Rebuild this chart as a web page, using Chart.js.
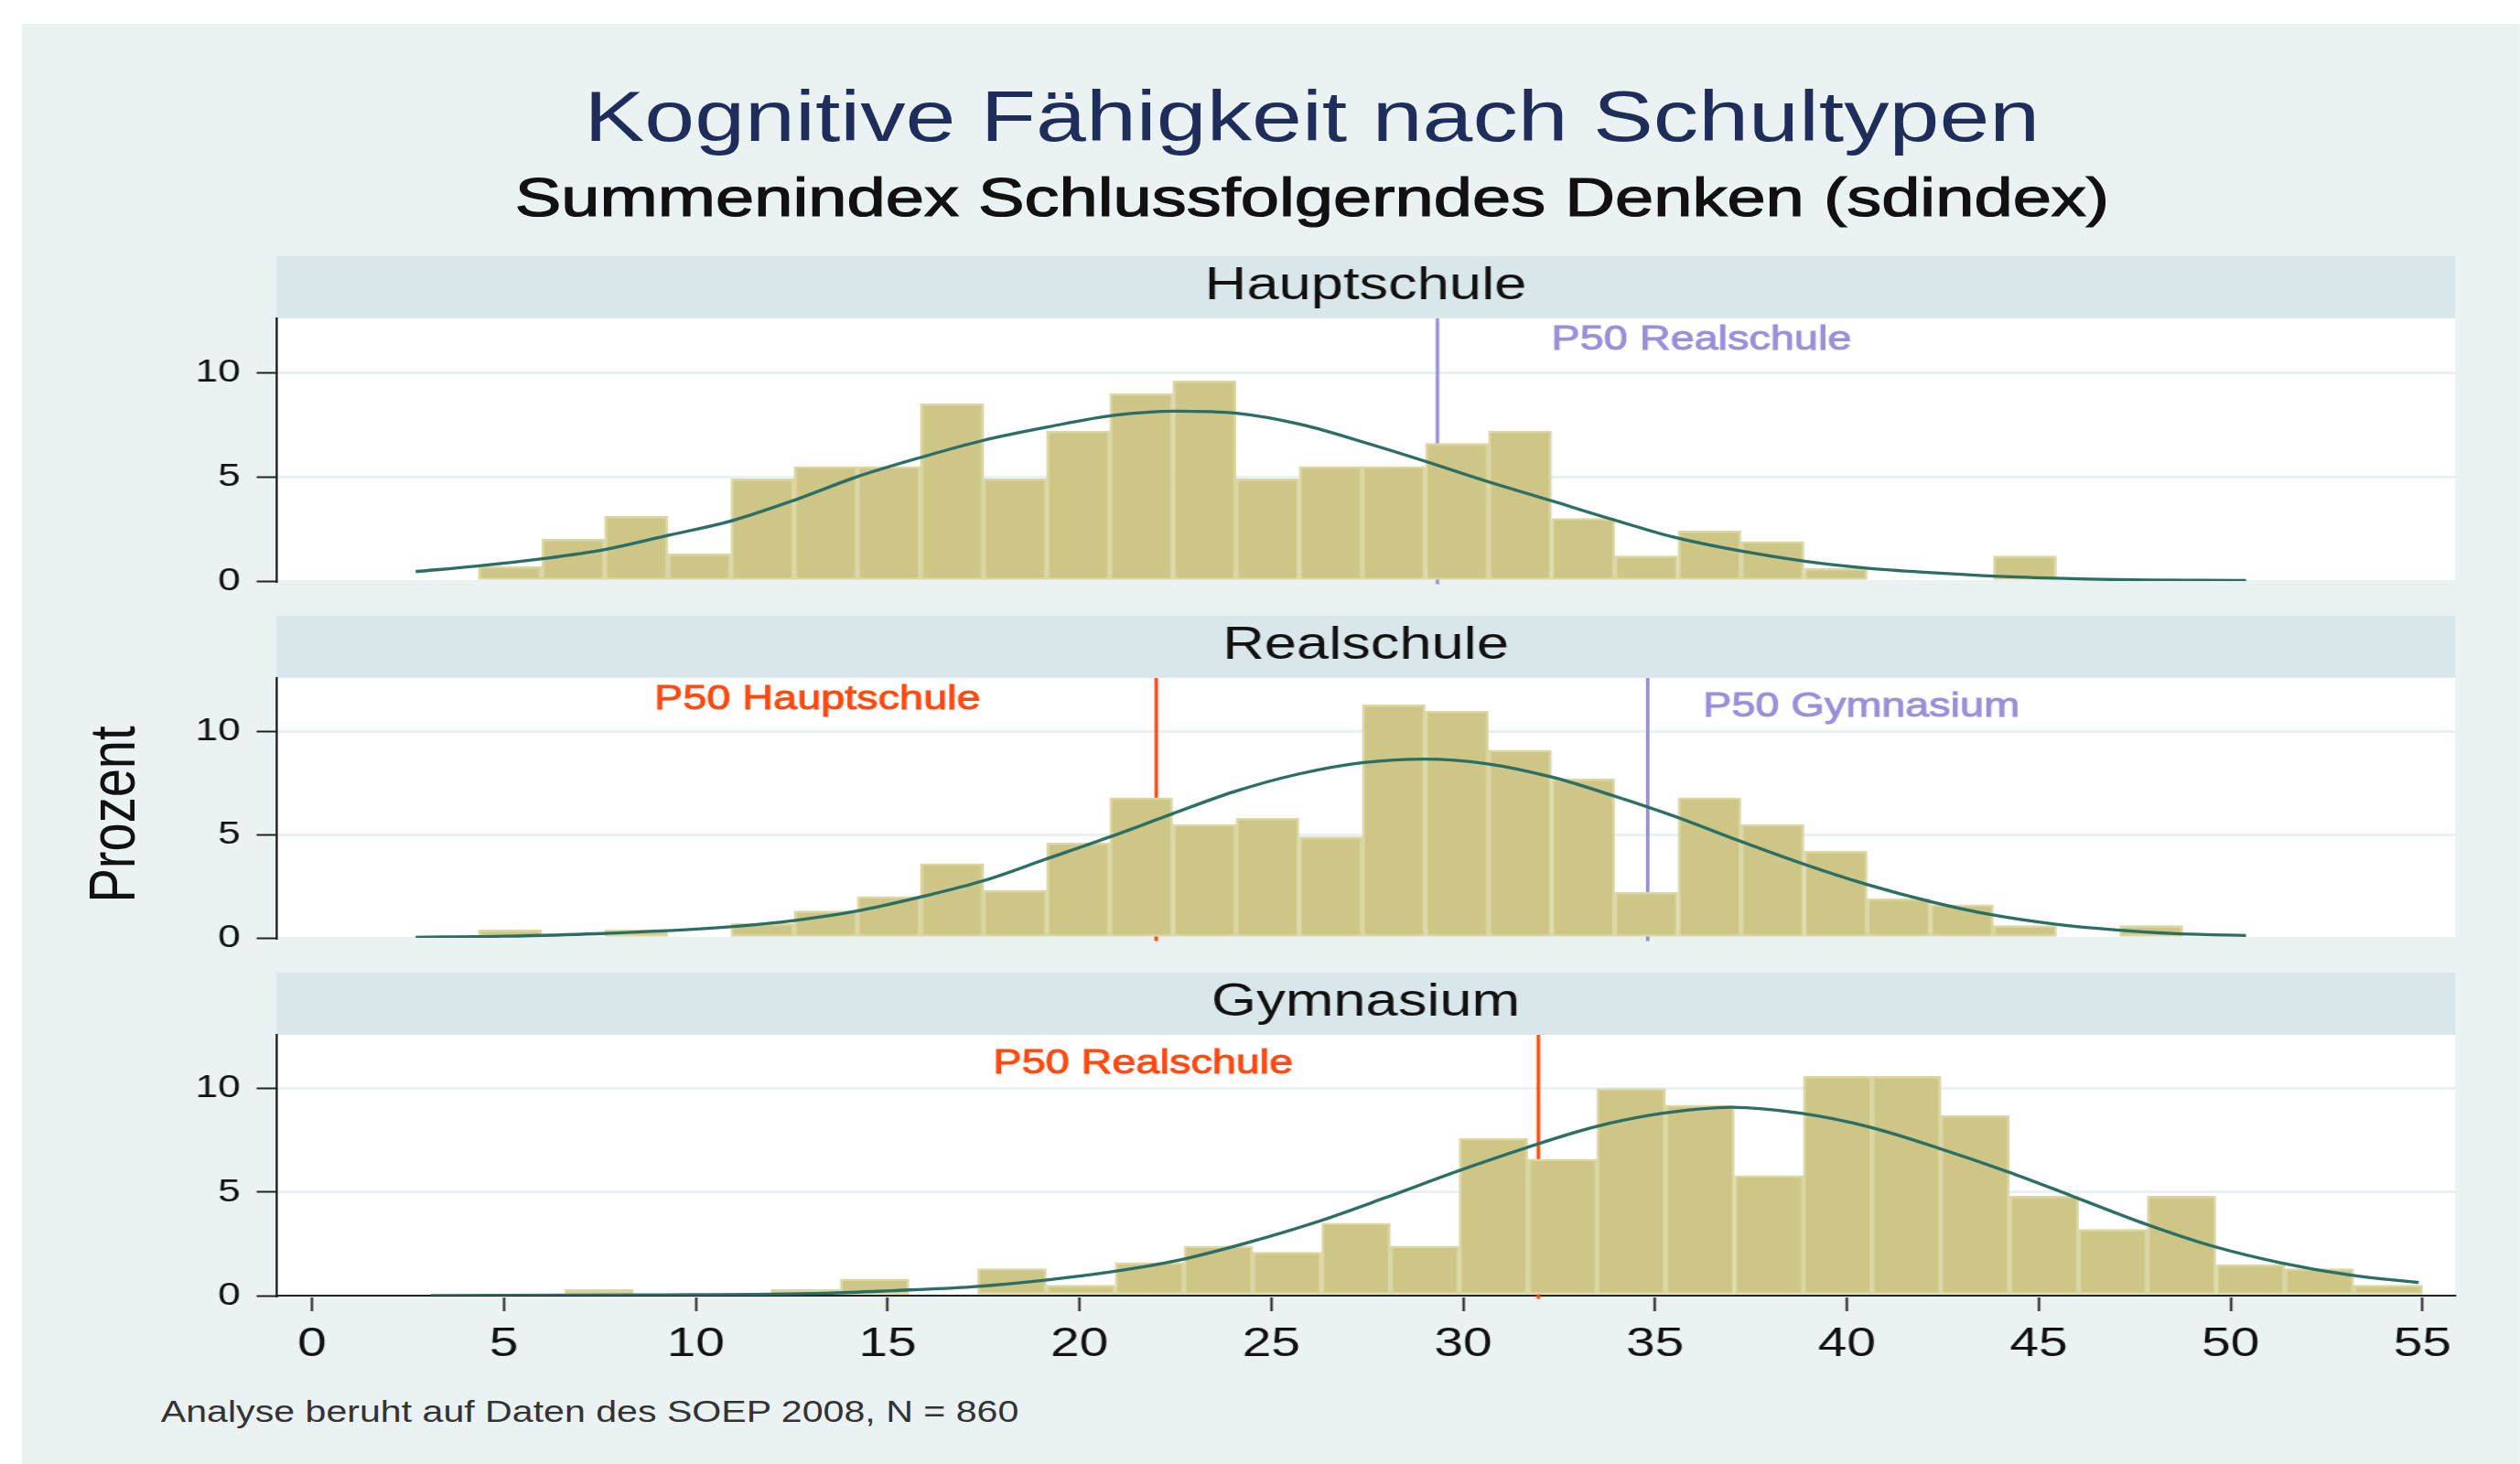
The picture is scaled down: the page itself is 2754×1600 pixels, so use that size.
<!DOCTYPE html>
<html lang="de">
<head>
<meta charset="utf-8">
<title>Kognitive Fähigkeit nach Schultypen</title>
<script src="https://cdn.jsdelivr.net/npm/chart.js@4.4.1/dist/chart.umd.min.js"></script>
<style>
  html, body { margin: 0; padding: 0; background: #fff; overflow: hidden; }
  /* the original graph is stretched sideways, so the whole stage is too */
  #stage { position: absolute; left: 0; top: 0; width: 2177px; height: 1600px;
           transform: scaleX(1.265); transform-origin: 0 0;
           font-family: "Liberation Sans", Arial, sans-serif; }
  #bg { position: absolute; left: 19px; top: 26px; width: 2158px; height: 1574px; background: #eaf2f3; }
  .txt { position: absolute; white-space: nowrap; line-height: 1; }
  #title { left: 0; width: 2267px; top: 88px; text-align: center; font-size: 78px; color: #1f2d5a; }
  #subtitle { left: 0; width: 2267px; top: 186px; text-align: center; font-size: 60px; color: #111;
              -webkit-text-stroke: 1.2px #111; }
  #ytitle { left: -53px; top: 862px; width: 300px; height: 56px; text-align: center;
            font-size: 56px; color: #111; transform: rotate(-90deg); }
  #note { left: 139px; top: 1527px; font-size: 32.5px; color: #333; }
  canvas { position: absolute; left: 0; }
</style>
</head>
<body>
<div id="stage">
  <div id="bg"></div>
  <div class="txt" id="title">Kognitive Fähigkeit nach Schultypen</div>
  <div class="txt" id="subtitle">Summenindex Schlussfolgerndes Denken (sdindex)</div>
  <div class="txt" id="ytitle">Prozent</div>
  <canvas id="c1" width="2177" height="390" style="top:280px"></canvas>
  <canvas id="c2" width="2177" height="387" style="top:673px"></canvas>
  <canvas id="c3" width="2177" height="443" style="top:1063px"></canvas>
  <div class="txt" id="note">Analyse beruht auf Daten des SOEP 2008, N = 860</div>
</div>
<script>
// Klassenmitten (Haupt- und Realschule teilen sich die Klassen)
const binsHR = [5.16, 6.81, 8.45, 10.10, 11.74, 13.39, 15.03, 16.68, 18.32, 19.97,
                21.61, 23.26, 24.90, 26.55, 28.19, 29.84, 31.48, 33.13, 34.77, 36.42,
                38.06, 39.71, 41.35, 43.00, 44.64, 46.29, 47.93];
const binsGym = [3.90, 5.69, 7.48, 9.28, 11.07, 12.86, 14.66, 16.45, 18.24, 20.03,
                 21.83, 23.62, 25.41, 27.21, 29.00, 30.79, 32.59, 34.38, 36.17, 37.97,
                 39.76, 41.55, 43.34, 45.14, 46.93, 48.72, 50.52, 52.31, 54.10];

// Prozent je Klasse
const hauptschule = [0.7, 2.0, 3.1, 1.3, 4.9, 5.5, 5.5, 8.5, 4.9, 7.2,
                     9.0, 9.6, 4.9, 5.5, 5.5, 6.6, 7.2, 3.0, 1.2, 2.4,
                     1.9, 0.6, 0, 0, 1.2, 0, 0];
const realschule = [0.4, 0, 0.4, 0, 0.7, 1.3, 2.0, 3.6, 2.3, 4.6,
                    6.8, 5.5, 5.8, 4.9, 11.3, 11.0, 9.1, 7.7, 2.2, 6.8,
                    5.5, 4.2, 1.9, 1.6, 0.6, 0, 0.6];
const gymnasium = [0, 0, 0.3, 0, 0, 0.3, 0.8, 0, 1.3, 0.5,
                   1.6, 2.4, 2.1, 3.5, 2.4, 7.6, 6.6, 10.0, 9.2, 5.8,
                   10.6, 10.6, 8.7, 4.8, 3.2, 4.8, 1.5, 1.3, 0.5];

// Normalverteilungskurven
const curveHaupt = [[2.7, 0.45], [4.3, 0.72], [6.0, 1.07], [7.6, 1.5], [9.3, 2.2], [10.9, 2.87],
  [12.6, 3.9], [14.2, 5.0], [15.9, 5.95], [17.5, 6.75], [19.2, 7.4], [20.9, 7.95], [22.5, 8.15],
  [24.1, 8.05], [25.8, 7.5], [27.6, 6.55], [29.0, 5.75], [30.5, 4.85], [32.3, 3.85], [33.9, 2.95],
  [35.5, 2.1], [37.2, 1.45], [38.9, 0.95], [40.5, 0.62], [42.2, 0.4], [43.8, 0.24], [45.4, 0.14],
  [47.0, 0.07], [50.4, 0.03]];
const curveReal = [[2.7, 0.03], [5.0, 0.08], [7.4, 0.2], [10.9, 0.54], [12.6, 0.85], [14.2, 1.3],
  [15.9, 2.0], [17.5, 2.77], [19.1, 3.8], [20.8, 4.9], [22.4, 6.0], [24.0, 7.07], [25.7, 7.94],
  [27.4, 8.5], [29.0, 8.67], [30.6, 8.45], [32.3, 7.8], [33.9, 6.9], [35.5, 5.9], [37.2, 4.7],
  [38.9, 3.56], [40.5, 2.6], [42.2, 1.75], [43.8, 1.11], [45.4, 0.67], [47.1, 0.37], [48.7, 0.19],
  [50.4, 0.12]];
const curveGym = [[3.1, 0.0], [8.7, 0.04], [13.4, 0.12], [15.1, 0.24], [17.2, 0.43], [19.1, 0.75],
  [20.8, 1.14], [22.6, 1.72], [24.4, 2.57], [26.2, 3.57], [28.0, 4.75], [29.8, 5.98], [31.6, 7.12],
  [33.4, 8.14], [35.2, 8.81], [37.0, 9.1], [38.8, 8.81], [40.6, 8.14], [42.4, 7.12],
  [44.2, 5.98], [45.9, 4.79], [47.8, 3.45], [49.5, 2.41], [51.3, 1.59], [53.1, 1.0], [54.9, 0.63]];

// Mediane der jeweils anderen Schultypen
const p50Haupt = [{ text: 'P50 Realschule', at: 29.33, color: '#9a90d8', tx: 32.3, ty: 11.1 }];
const p50Real = [{ text: 'P50 Hauptschule', at: 22.0, color: '#ff4a12', tx: 8.92, ty: 11.1 },
                 { text: 'P50 Gymnasium', at: 34.81, color: '#9a90d8', tx: 36.25, ty: 10.73 }];
const p50Gym = [{ text: 'P50 Realschule', at: 31.96, color: '#ff4a12', tx: 17.75, ty: 10.74 }];

const xTicks = [0, 5, 10, 15, 20, 25, 30, 35, 40, 45, 50, 55];
const yTicks = [0, 5, 10];
const xMin = -0.93, xMax = 55.85, yMax = 12.6;

const FONT = '"Liberation Sans", Arial, sans-serif';

// Streifen oben, weisser Plotbereich und P50-Beschriftungen
const panelDeco = {
  id: 'panelDeco',
  beforeDraw(chart, args, o) {
    const { ctx, chartArea: a } = chart;
    ctx.save();
    ctx.fillStyle = '#d9e6ea';
    ctx.fillRect(a.left, 0, a.right - a.left, a.top);
    ctx.fillStyle = '#fff';
    ctx.fillRect(a.left, a.top, a.right - a.left, a.bottom - a.top);
    ctx.fillStyle = '#111';
    ctx.font = '50px ' + FONT;
    ctx.textAlign = 'center';
    ctx.textBaseline = 'alphabetic';
    ctx.fillText(o.strip, (a.left + a.right) / 2, 47);
    ctx.restore();
  },
  afterDatasetsDraw(chart, args, o) {
    const { ctx, scales: { x, y } } = chart;
    ctx.save();
    ctx.font = '37px ' + FONT;
    ctx.textAlign = 'left';
    ctx.textBaseline = 'alphabetic';
    ctx.lineWidth = 1;
    o.labels.forEach(l => {
      const px = x.getPixelForValue(l.tx), py = y.getPixelForValue(l.ty);
      ctx.fillStyle = l.color;
      ctx.strokeStyle = l.color;
      ctx.fillText(l.text, px, py);
      ctx.strokeText(l.text, px, py);
    });
    ctx.restore();
  }
};

function makePanel(id, strip, bins, values, curve, medians, showX) {
  const datasets = [
    {
      type: 'bar',
      data: bins.map((b, i) => ({ x: b, y: values[i] })),
      backgroundColor: '#cdc687',
      borderColor: '#dcd7a2',
      borderWidth: 2.5,
      borderSkipped: false,
      categoryPercentage: 1,
      barPercentage: 1,
      order: 1
    },
    {
      type: 'line',
      data: curve.map(([x, y]) => ({ x, y })),
      borderColor: '#2d6e64',
      borderWidth: 3.3,
      pointRadius: 0,
      cubicInterpolationMode: 'monotone',
      fill: false,
      order: 0
    }
  ];
  medians.forEach(m => {
    datasets.push({
      type: 'line',
      data: [{ x: m.at, y: -0.15 }, { x: m.at, y: yMax }],
      borderColor: m.color,
      borderWidth: 3,
      pointRadius: 0,
      fill: false,
      order: 2,
      clip: { left: 0, top: 0, right: 0, bottom: 8 }
    });
  });

  const xScale = { type: 'linear', min: xMin, max: xMax, offset: false, display: false };
  if (showX) {
    Object.assign(xScale, {
      display: true,
      afterBuildTicks: s => { s.ticks = xTicks.map(v => ({ value: v })); },
      afterFit: s => { s.height = 90; },
      ticks: { font: { family: FONT, size: 45 }, color: '#111', padding: 10, maxRotation: 0, autoSkip: false },
      grid: { drawOnChartArea: false, offset: false, tickLength: 17, tickColor: '#222', tickWidth: 2 },
      border: { color: '#222', width: 2 }
    });
  }

  return new Chart(document.getElementById(id), {
    type: 'bar',
    data: { datasets },
    options: {
      responsive: false,
      animation: false,
      devicePixelRatio: 1,
      // bottom room is taken by the half label of the "0" tick anyway
      layout: { padding: { top: 68, right: 56, bottom: showX ? 0 : 35, left: 0 } },
      plugins: {
        legend: { display: false },
        tooltip: { enabled: false },
        panelDeco: { strip, labels: medians }
      },
      scales: {
        x: xScale,
        y: {
          min: 0,
          max: yMax,
          afterBuildTicks: s => { s.ticks = yTicks.map(v => ({ value: v })); },
          afterFit: s => { s.width = 238.7; },
          ticks: { font: { family: FONT, size: 35 }, color: '#111', padding: 14 },
          grid: { color: '#e9f1f3', lineWidth: 3, tickColor: '#222', tickWidth: 2, tickLength: 17 },
          border: { color: '#222', width: 2 }
        }
      }
    },
    plugins: [panelDeco]
  });
}

makePanel('c1', 'Hauptschule', binsHR, hauptschule, curveHaupt, p50Haupt, false);
makePanel('c2', 'Realschule', binsHR, realschule, curveReal, p50Real, false);
makePanel('c3', 'Gymnasium', binsGym, gymnasium, curveGym, p50Gym, true);
</script>
</body>
</html>
